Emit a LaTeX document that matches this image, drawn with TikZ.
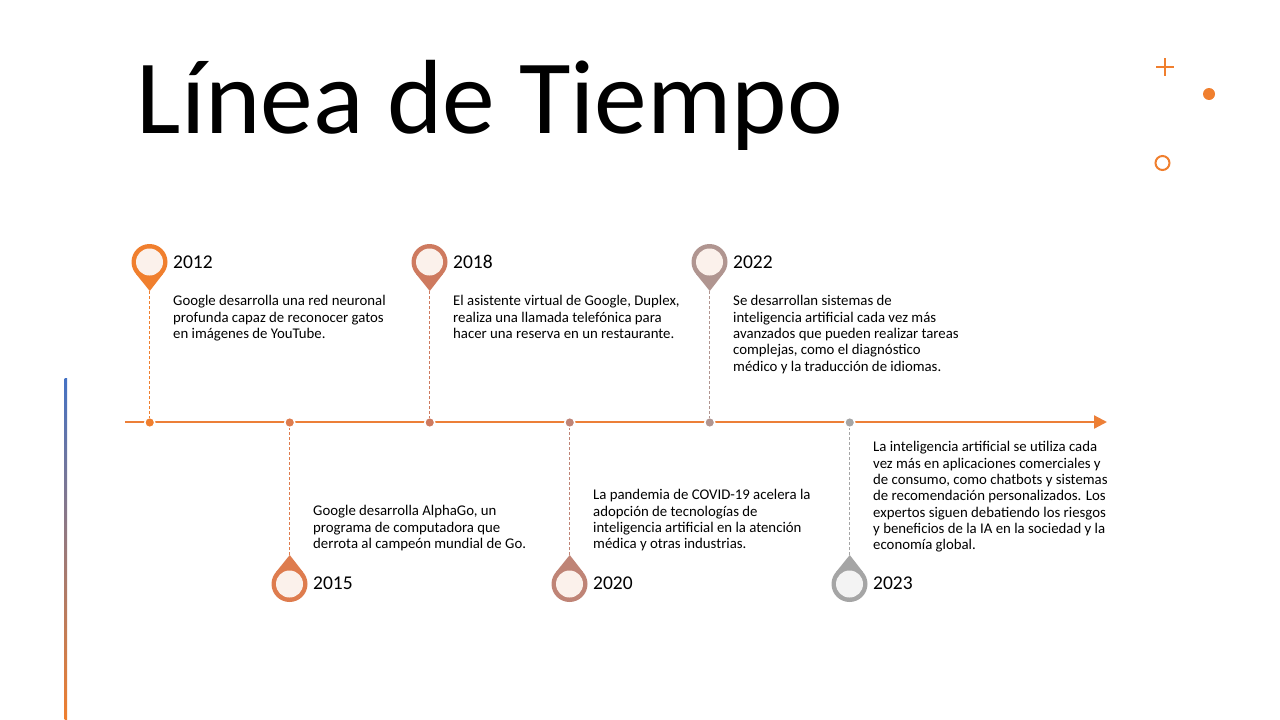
\documentclass[tikz,border=0pt]{standalone}
\usepackage{fontspec}
\setmainfont{Carlito}
\usetikzlibrary{arrows.meta}
\definecolor{cola}{HTML}{F07F2E}
\definecolor{colb}{HTML}{DE7C4E}
\definecolor{colc}{HTML}{CE7A5F}
\definecolor{cold}{HTML}{BF8476}
\definecolor{cole}{HTML}{B09590}
\definecolor{colf}{HTML}{A5A5A5}
\definecolor{axisline}{HTML}{EC7F38}
\definecolor{barblue}{HTML}{4472C4}
\definecolor{innera}{HTML}{FBF1EB}
\definecolor{innerf}{HTML}{F3F3F3}
\begin{document}
\begin{tikzpicture}[x=1pt,y=-1pt,line cap=butt,
  pinhead/.style={circle,inner sep=0pt,outer sep=0pt,minimum size=36pt},
  pincore/.style={circle,inner sep=0pt,outer sep=0pt,minimum size=27pt},
  dot/.style={circle,inner sep=0pt,outer sep=0pt,minimum size=10pt,draw=white,line width=1.5pt},
  stem/.style={dash pattern=on 3pt off 2pt,line width=.75pt},
  year/.style={anchor=west,inner sep=0pt,font=\fontsize{19.5}{23}\selectfont},
  body/.style={anchor=north west,align=left,inner sep=0pt,font=\fontsize{14.8}{16.35}\selectfont}]
\useasboundingbox (0,0) rectangle (1280,720);
% title and corner marks
\node[anchor=base west,inner sep=0pt,font=\fontsize{105.5}{120}\selectfont] (title) at (136.5,133) {Línea de Tiempo};
\draw[line width=2pt,cola] (1156,67) -- (1174,67);
\draw[line width=2pt,cola] (1165,58) -- (1165,76);
\fill[cola] (1209,94) circle (6);
\draw[line width=2pt,cola] (1162.5,163) circle (7);
% side bar
\shade[top color=barblue,bottom color=cola] (64.5,378) rectangle (67,720);
% axis
\coordinate (axisstart) at (125,422);
\coordinate (axisend) at (1107,422);
\draw[line width=2.25pt,axisline,-{Triangle[length=13pt,width=13pt,fill=cola]}] (axisstart) -- (axisend);
\node[dot,fill=cola] (dota) at (149.75,422.5) {};
\node[dot,fill=colb] (dotb) at (289.75,422.5) {};
\node[dot,fill=colc] (dotc) at (429.75,422.5) {};
\node[dot,fill=cold] (dotd) at (569.75,422.5) {};
\node[dot,fill=cole] (dote) at (709.75,422.5) {};
\node[dot,fill=colf] (dotf) at (849.75,422.5) {};
% pins
\coordinate (tipa) at (149.75,291);
\coordinate (tipb) at (289.75,555);
\coordinate (tipc) at (429.75,291);
\coordinate (tipd) at (569.75,555);
\coordinate (tipe) at (709.75,291);
\coordinate (tipf) at (849.75,555);
\draw[stem,cola] (tipa) -- (dota);
\draw[stem,colb] (tipb) -- (dotb);
\draw[stem,colc] (tipc) -- (dotc);
\draw[stem,cold] (tipd) -- (dotd);
\draw[stem,cole] (tipe) -- (dote);
\draw[stem,colf] (tipf) -- (dotf);
\node[pinhead,fill=cola] (pina) at (149.5,262) {};
\node[pinhead,fill=colb] (pinb) at (289.5,584) {};
\node[pinhead,fill=colc] (pinc) at (429.5,262) {};
\node[pinhead,fill=cold] (pind) at (569.5,584) {};
\node[pinhead,fill=cole] (pine) at (709.5,262) {};
\node[pinhead,fill=colf] (pinf) at (849.5,584) {};
\fill[cola] (tipa) -- (pina.-40) -- (pina.220) -- cycle;
\fill[colb] (tipb) -- (pinb.40) -- (pinb.140) -- cycle;
\fill[colc] (tipc) -- (pinc.-40) -- (pinc.220) -- cycle;
\fill[cold] (tipd) -- (pind.40) -- (pind.140) -- cycle;
\fill[cole] (tipe) -- (pine.-40) -- (pine.220) -- cycle;
\fill[colf] (tipf) -- (pinf.40) -- (pinf.140) -- cycle;
\node[pincore,fill=innera] (corea) at (pina) {};
\node[pincore,fill=innera] (coreb) at (pinb) {};
\node[pincore,fill=innera] (corec) at (pinc) {};
\node[pincore,fill=innera] (cored) at (pind) {};
\node[pincore,fill=innera] (coree) at (pine) {};
\node[pincore,fill=innerf] (coref) at (pinf) {};
% years
\node[year] (yeara) at (173,262) {2012};
\node[year] (yearb) at (313,583) {2015};
\node[year] (yearc) at (453,262) {2018};
\node[year] (yeard) at (593,583) {2020};
\node[year] (yeare) at (733,262) {2022};
\node[year] (yearf) at (873,583) {2023};
% texts
\node[body] (texta) at (173,295.3) {Google desarrolla una red neuronal\\profunda capaz de reconocer gatos\\en imágenes de YouTube.};
\node[body] (textb) at (313,505.3) {Google desarrolla AlphaGo, un\\programa de computadora que\\derrota al campeón mundial de Go.};
\node[body] (textc) at (453,295.3) {El asistente virtual de Google, Duplex,\\realiza una llamada telefónica para\\hacer una reserva en un restaurante.};
\node[body] (textd) at (593,489.3) {La pandemia de COVID-19 acelera la\\adopción de tecnologías de\\inteligencia artificial en la atención\\médica y otras industrias.};
\node[body] (texte) at (733,295.3) {Se desarrollan sistemas de\\inteligencia artificial cada vez más\\avanzados que pueden realizar tareas\\complejas, como el diagnóstico\\médico y la traducción de idiomas.};
\node[body] (textf) at (873,441.3) {La inteligencia artificial se utiliza cada\\vez más en aplicaciones comerciales y\\de consumo, como chatbots y sistemas\\de recomendación personalizados. Los\\expertos siguen debatiendo los riesgos\\y beneficios de la IA en la sociedad y la\\economía global.};
\end{tikzpicture}
\end{document}
